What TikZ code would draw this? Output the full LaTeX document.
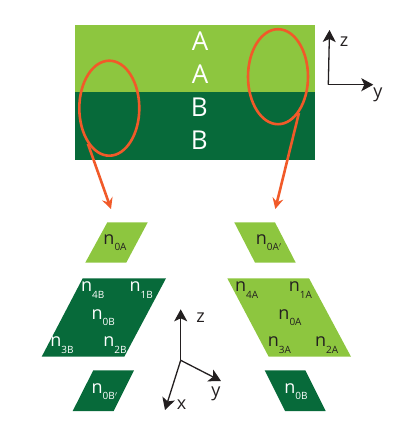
\documentclass[tikz,border=0pt]{standalone}
\usepackage{fontspec}
\setmainfont{Open Sans}
\usepackage{xcolor}
\usetikzlibrary{shapes.geometric, arrows.meta}
\definecolor{layerA}{HTML}{8DC63F}
\definecolor{layerB}{HTML}{076A3A}
\definecolor{hoop}{HTML}{F15A29}
\definecolor{ink}{HTML}{231F20}
\newcommand{\site}[1]{n\raisebox{-0.35em}{\fontsize{10}{10}\selectfont #1}}

\begin{document}
\begin{tikzpicture}[x=1pt, y=-1pt,
    letter/.style={font=\fontsize{26}{26}\selectfont, text=white, inner sep=0pt},
    siteA/.style={font=\fontsize{18}{18}\selectfont, text=ink, inner sep=0pt},
    siteB/.style={font=\fontsize{18}{18}\selectfont, text=white, inner sep=0pt},
    axlabel/.style={font=\fontsize{18}{18}\selectfont, text=ink, inner sep=0pt},
    hoopring/.style={draw=hoop, line width=2.6pt, ellipse, minimum width=60pt, minimum height=95pt, inner sep=0pt},
    hooparrow/.style={draw=hoop, line width=2.6pt, -{Stealth[length=11pt, width=11pt, inset=4pt]}},
    axis/.style={draw=ink, line width=1.3pt, -{Stealth[length=12pt, width=13pt, inset=3pt]}}]
\useasboundingbox (0,0) rectangle (416,446);

% stacked layers
\fill[layerA] (75,24.7) rectangle (314.7,92);
\fill[layerB] (75,92) rectangle (314.7,160);
\node[letter] (a1) at (200,40.7) {A};
\node[letter] (a2) at (200,74) {A};
\node[letter] (b1) at (199.3,107) {B};
\node[letter] (b2) at (199.3,140.7) {B};

% left column
\fill[layerA] (107.3,222.4) -- (147.7,222.4) -- (126.3,262.6) -- (85.3,262.6) -- cycle;
\fill[layerB] (82.7,278.3) -- (166,278.3) -- (124.3,356.7) -- (41.7,356.7) -- cycle;
\fill[layerB] (93.3,370.3) -- (134,370.3) -- (113.7,411) -- (72.7,411) -- cycle;
\node[siteA] (n0a) at (115,242.7) {\site{0A}};
\node[siteB] (n4b) at (92.7,290) {\site{4B}};
\node[siteB] (n1b) at (141.3,290) {\site{1B}};
\node[siteB] (n0b) at (103.3,317.3) {\site{0B}};
\node[siteB] (n3b) at (62,345) {\site{3B}};
\node[siteB] (n2b) at (115,345) {\site{2B}};
\node[siteB] (n0bp) at (104.7,391.7) {\site{0B$'$}};

% right column
\fill[layerA] (234.3,222.4) -- (275,222.4) -- (295.7,262.6) -- (255,262.6) -- cycle;
\fill[layerA] (227.3,278.3) -- (309,278.3) -- (351,356.7) -- (268.7,356.7) -- cycle;
\fill[layerB] (264.7,370.3) -- (305.3,370.3) -- (325.7,411) -- (285,411) -- cycle;
\node[siteA] (n0ap) at (268.7,242.7) {\site{0A$'$}};
\node[siteA] (n4a) at (246.7,290) {\site{4A}};
\node[siteA] (n1a) at (300.3,290) {\site{1A}};
\node[siteA] (n0ar) at (290,317.3) {\site{0A}};
\node[siteA] (n3a) at (279.3,345) {\site{3A}};
\node[siteA] (n2a) at (326.7,345) {\site{2A}};
\node[siteB] (n0br) at (296,391.7) {\site{0B}};

% selection rings
\node[hoopring] (ringL) at (109.3,108.2) {};
\node[hoopring] (ringR) at (278,76.7) {};
\coordinate (tipL) at (111,209);
\coordinate (tipR) at (275.3,209);
\draw[hooparrow] (ringL.239) -- (tipL);
\draw[hooparrow] (ringR.300) -- (tipR);

% upper axes
\coordinate (o1) at (328.3,84.7);
\coordinate (z1) at (329.5,30);
\coordinate (y1) at (373.3,84.7);
\node[axlabel] (lz1) at (344,42) {z};
\node[axlabel] (ly1) at (378,95) {y};
\draw[axis] (o1) -- (z1);
\draw[axis] (o1) -- (y1);

% lower axes
\coordinate (o2) at (180.7,360.3);
\coordinate (z2) at (180.7,309.3);
\coordinate (y2) at (221,381);
\coordinate (x2) at (165,410);
\node[axlabel] (lz2) at (200.7,318) {z};
\node[axlabel] (ly2) at (216,394) {y};
\node[axlabel] (lx2) at (181.7,405) {x};
\draw[axis] (o2) -- (z2);
\draw[axis] (o2) -- (y2);
\draw[axis] (o2) -- (x2);
\end{tikzpicture}
\end{document}
